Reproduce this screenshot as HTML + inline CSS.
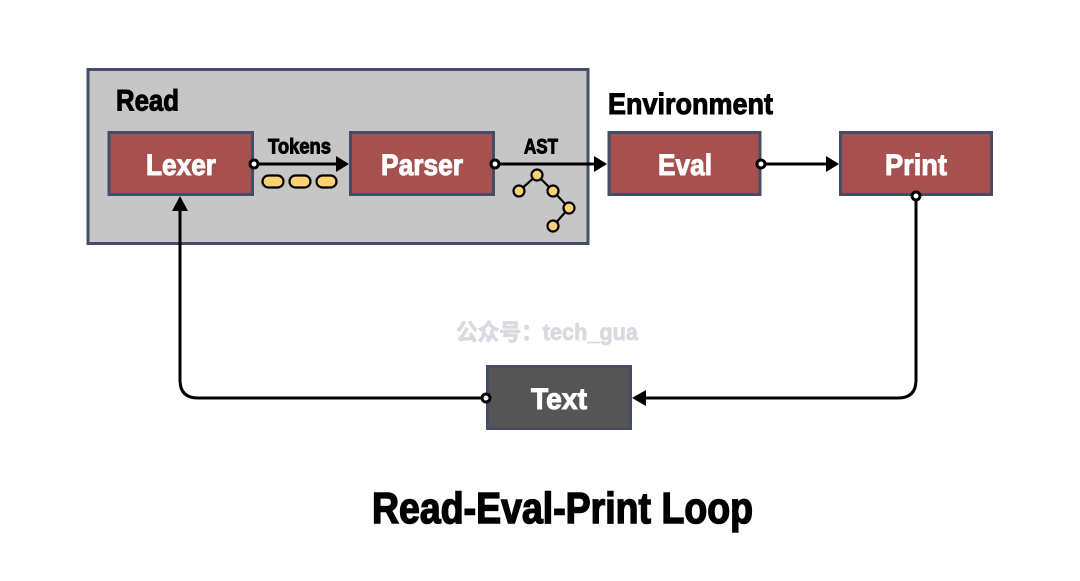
<!DOCTYPE html>
<html><head><meta charset="utf-8"><style>
html,body{margin:0;padding:0;background:#fff}
svg{display:block}
text{font-family:"Liberation Sans","Noto Sans CJK SC",sans-serif;font-weight:700}
.w{fill:#fff;font-size:30px;stroke:#fff;stroke-width:1px}
.k{fill:#000;stroke:#000;stroke-width:1px}
</style></head><body>
<svg width="1080" height="581" viewBox="0 0 1080 581" xmlns="http://www.w3.org/2000/svg">
<rect x="88" y="69.5" width="500" height="174" fill="#c6c6c6" stroke="#434d66" stroke-width="3"/>
<g fill="#a65150" stroke="#434d66" stroke-width="3">
<rect x="109" y="132.5" width="143.500" height="62"/>
<rect x="350.500" y="132.500" width="143" height="62"/>
<rect x="609" y="132.500" width="151" height="62"/>
<rect x="840.500" y="132.500" width="151" height="62"/>
<rect x="487.500" y="366.500" width="143" height="62" fill="#555555"/>
</g>
<g fill="none" stroke="#000" stroke-width="3">
<path d="M254 164H338"/>
<path d="M495 164H596"/>
<path d="M761 164H828"/>
<path d="M916 196V380Q916 398 898 398H644"/>
<path d="M486 398H198Q180 398 180 380V209"/>
</g>
<g fill="#000">
<path d="M349 164L336 156V172Z"/>
<path d="M607 164L594 156V172Z"/>
<path d="M839 164L826 156V172Z"/>
<path d="M632 398L646 390V406Z"/>
<path d="M180 196L172 211H188Z"/>
</g>
<g fill="#fff" stroke="#000" stroke-width="3">
<circle cx="254" cy="164" r="4"/>
<circle cx="495" cy="164" r="4"/>
<circle cx="761" cy="164" r="4"/>
<circle cx="916" cy="196" r="4"/>
<circle cx="486" cy="398" r="4"/>
</g>
<g fill="#fad177" stroke="#000" stroke-width="2.2">
<rect x="262.500" y="175.500" width="21" height="12" rx="6"/>
<rect x="289.500" y="175.500" width="21" height="12" rx="6"/>
<rect x="316.500" y="175.500" width="20" height="12" rx="6"/>
</g>
<path d="M519 191L537 175L553 191L569 208L553 226" fill="none" stroke="#000" stroke-width="2.2"/>
<g fill="#fad177" stroke="#000" stroke-width="2.2">
<circle cx="519" cy="191" r="5.500"/>
<circle cx="537" cy="175" r="5.500"/>
<circle cx="553" cy="191" r="5.500"/>
<circle cx="569" cy="208" r="5.500"/>
<circle cx="553" cy="226" r="5.500"/>
</g>
<text class="k" x="116" y="110.500" font-size="30" textLength="63" lengthAdjust="spacingAndGlyphs">Read</text>
<text class="k" x="608" y="114" font-size="30" textLength="165" lengthAdjust="spacingAndGlyphs">Environment</text>
<text class="k" x="268" y="153.500" font-size="21" textLength="63" lengthAdjust="spacingAndGlyphs">Tokens</text>
<text class="k" x="524" y="153.500" font-size="21" textLength="34" lengthAdjust="spacingAndGlyphs">AST</text>
<text class="w" x="146" y="175" textLength="70" lengthAdjust="spacingAndGlyphs">Lexer</text>
<text class="w" x="381" y="175" textLength="82" lengthAdjust="spacingAndGlyphs">Parser</text>
<text class="w" x="658" y="175" textLength="54" lengthAdjust="spacingAndGlyphs">Eval</text>
<text class="w" x="885" y="175" textLength="62" lengthAdjust="spacingAndGlyphs">Print</text>
<text class="w" x="531" y="409" textLength="56" lengthAdjust="spacingAndGlyphs">Text</text>
<text x="456" y="340" font-size="23" fill="#d9d9e0" stroke="#d9d9e0" stroke-width=".8" textLength="182" lengthAdjust="spacingAndGlyphs">公众号：tech_gua</text>
<text class="k" x="372" y="523" font-size="44" stroke-width="1.5" style="stroke-width:1.500px" textLength="381" lengthAdjust="spacingAndGlyphs">Read-Eval-Print Loop</text>
</svg>
</body></html>
